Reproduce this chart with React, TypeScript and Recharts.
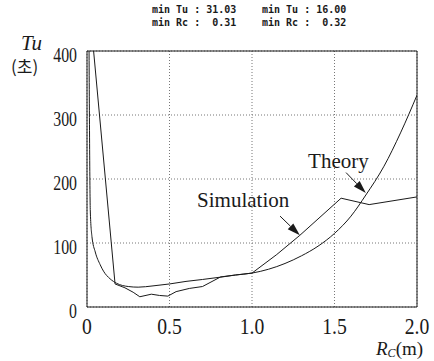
import {
  LineChart,
  Line,
  XAxis,
  YAxis,
  CartesianGrid,
  ReferenceLine,
  ReferenceDot,
} from "recharts";

// theory curve (R_C in m, T_u in s)
const theoryR = [0.012, 0.02, 0.03, 0.05, 0.08, 0.1, 0.14, 0.18, 0.25, 0.31, 0.4, 0.5, 0.6, 0.7, 0.82, 0.9, 1.0, 1.1, 1.2, 1.3, 1.4, 1.5, 1.6, 1.69, 1.8, 1.9, 2.0];
const theoryT = [420, 150, 110, 86, 66, 56, 44, 37, 32, 31, 33, 36, 40, 43, 47, 50, 53, 59, 68, 80, 95, 115, 142, 175, 220, 272, 331];

// simulation curve
const simR = [0.04, 0.17, 0.23, 0.28, 0.32, 0.39, 0.44, 0.49, 0.54, 0.62, 0.7, 0.81, 0.9, 1.0, 1.15, 1.29, 1.54, 1.71, 2.0];
const simT = [400, 36, 30, 23, 16, 20, 18, 17, 24, 29, 32, 47, 50, 53, 82, 112, 170, 160, 172];

const xTicks = [0, 0.5, 1.0, 1.5, 2.0];
const yTicks = [0, 100, 200, 300, 400];

const theoryData = theoryR.map((r, i) => ({ r, t: theoryT[i] }));
const simData = simR.map((r, i) => ({ r, t: simT[i] }));

const INK = "#1a1a1a";
const SERIF = "Liberation Serif";

const YTick = (p: any) => (
  <text
    transform={`translate(${p.x},${p.y + 11}) scale(0.72,1)`}
    textAnchor="end"
    fontFamily={SERIF}
    fontSize={22}
    fill={INK}
    style={{ fontFamily: SERIF }}
  >
    {p.payload.value}
  </text>
);

const XTick = (p: any) => (
  <text
    transform={`translate(${p.x},${p.y + 25}) scale(0.82,1)`}
    textAnchor="middle"
    fontFamily={SERIF}
    fontSize={24}
    fill={INK}
    style={{ fontFamily: SERIF }}
  >
    {p.payload.value === 0 ? "0" : Number(p.payload.value).toFixed(1)}
  </text>
);

const Arrow = (p: any) => {
  const { x1, y1, x2, y2 } = p;
  const dx = x2 - x1;
  const dy = y2 - y1;
  const len = Math.sqrt(dx * dx + dy * dy) || 1;
  const ux = dx / len;
  const uy = dy / len;
  const hl = 13;
  const hw = 4;
  const bx = x2 - ux * hl;
  const by = y2 - uy * hl;
  return (
    <g>
      <line x1={x1} y1={y1} x2={bx} y2={by} stroke={INK} strokeWidth={1} />
      <polygon
        points={`${x2},${y2} ${bx - uy * hw},${by + ux * hw} ${bx + uy * hw},${by - ux * hw}`}
        fill={INK}
      />
    </g>
  );
};

const note = (label: string) => (p: any) => (
  <text x={p.cx} y={p.cy} style={{ fontFamily: SERIF, fontSize: 21, fill: INK }}>
    {label}
  </text>
);

const mono: React.CSSProperties = {
  position: "absolute",
  fontFamily: "'DejaVu Sans Mono', monospace",
  fontWeight: "bold",
  fontSize: 10,
  lineHeight: "13px",
  whiteSpace: "pre",
  color: INK,
};

export default function App() {
  return (
    <div style={{ position: "absolute", left: 0, top: 0, width: 434, height: 361, background: "#fff" }}>
      <LineChart
        width={434}
        height={361}
        margin={{ top: 51, right: 17, bottom: 24, left: 47 }}
      >
        <CartesianGrid stroke="#777" strokeDasharray="1 2" />
        <XAxis
          type="number"
          dataKey="r"
          domain={[0, 2]}
          ticks={xTicks}
          allowDataOverflow
          height={30}
          tickSize={0}
          tick={<XTick />}
          axisLine={{ stroke: INK }}
        />
        <YAxis
          type="number"
          dataKey="t"
          domain={[0, 400]}
          ticks={yTicks}
          allowDataOverflow
          width={40}
          tickSize={0}
          tickMargin={10}
          tick={<YTick />}
          axisLine={{ stroke: INK }}
        />
        <ReferenceLine y={400} stroke={INK} />
        <ReferenceLine x={2} stroke={INK} />
        <Line
          data={theoryData}
          dataKey="t"
          type="monotone"
          stroke={INK}
          strokeWidth={1}
          dot={false}
          isAnimationActive={false}
        />
        <Line
          data={simData}
          dataKey="t"
          type="linear"
          stroke={INK}
          strokeWidth={1}
          dot={false}
          isAnimationActive={false}
        />
        <ReferenceLine
          segment={[{ x: 1.57, y: 210 }, { x: 1.69, y: 178 }]}
          shape={<Arrow />}
        />
        <ReferenceLine
          segment={[{ x: 1.17, y: 142 }, { x: 1.29, y: 112 }]}
          shape={<Arrow />}
        />
        <ReferenceDot x={1.34} y={217} r={0} ifOverflow="visible" shape={note("Theory")} />
        <ReferenceDot x={0.667} y={156} r={0} ifOverflow="visible" shape={note("Simulation")} />
      </LineChart>

      <div style={{ ...mono, left: 152, top: 3 }}>{"min Tu : 31.03\nmin Rc :  0.31"}</div>
      <div style={{ ...mono, left: 262, top: 3 }}>{"min Tu : 16.00\nmin Rc :  0.32"}</div>

      <div
        style={{ position: "absolute", left: 21, top: 31, fontFamily: SERIF, fontStyle: "italic", fontSize: 21, lineHeight: "24px", color: INK }}
      >
        Tu
      </div>
      <div
        style={{ position: "absolute", left: 11, top: 55, fontFamily: "'Noto Sans CJK KR', sans-serif", fontSize: 17, lineHeight: "22px", color: INK }}
      >
        (초)
      </div>
      <div
        style={{ position: "absolute", left: 376, top: 340, fontFamily: SERIF, fontSize: 19, lineHeight: "18px", color: INK, whiteSpace: "nowrap" }}
      >
        <i>R</i>
        <span style={{ fontSize: 12, fontStyle: "italic", position: "relative", top: 2, lineHeight: "12px" }}>C</span>(m)
      </div>
    </div>
  );
}
